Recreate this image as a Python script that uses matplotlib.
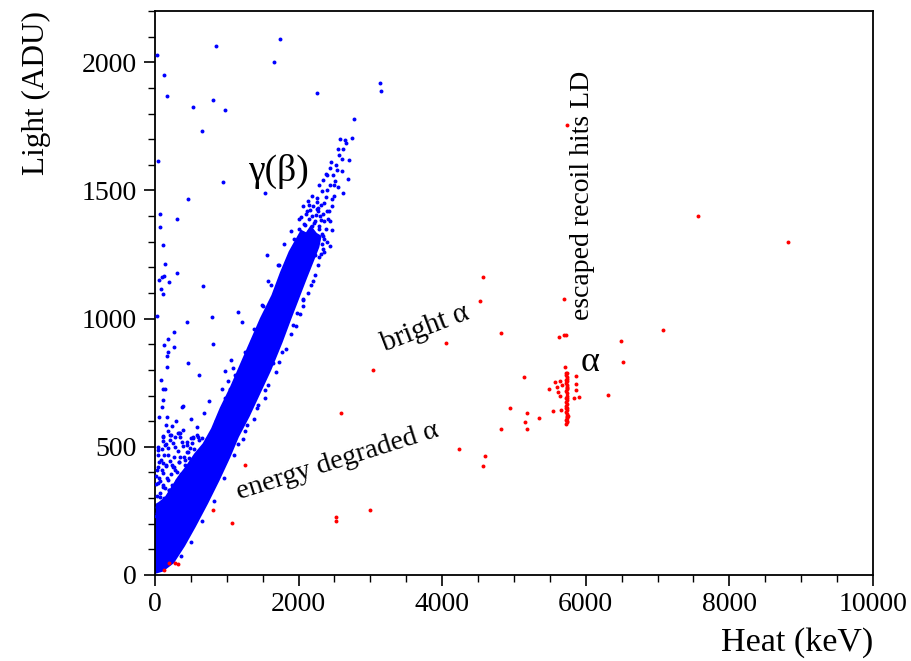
import matplotlib
matplotlib.use("Agg")
import matplotlib.pyplot as plt
from matplotlib.ticker import MultipleLocator

# ---------------- data ----------------
# dense gamma(beta) band: outline of the solid core (heat keV, light ADU)
core_heat = [0, 100, 250, 400, 550, 720, 880, 1030, 1150, 1300, 1450, 1600, 1760, 1880,
             1990, 2100, 2200, 2270, 2300, 2240, 2170, 2110, 2040, 1960, 1880, 1760, 1640,
             1480, 1340, 1200, 1060, 920, 800, 680, 560, 440, 330, 240, 150, 60, 0]
core_light = [10, 18, 50, 115, 190, 280, 370, 460, 540, 620, 710, 800, 910, 1000,
              1080, 1160, 1230, 1280, 1320, 1330, 1355, 1330, 1340, 1300, 1260, 1180, 1090,
              1000, 910, 820, 730, 650, 570, 510, 470, 420, 380, 340, 300, 280, 270]

# individual gamma(beta) events outside the solid core
blue_heat = [23, 850, 1745, 1653, 130, 167, 525, 812, 975, 2252, 3134, 3143, 2776, 2748,
             650, 46, 951, 1532, 455, 74, 74, 306, 116, 139, 306, 1556, 1570, 673, 93,
             125, 60, 190, 84, 116, 2205,
             2642, 2660, 2623, 2567, 2600, 2702, 2437, 2539, 2609, 2382, 2344, 2507,
             2692, 2437, 2553, 2614, 2321, 2382, 2461, 2308, 2461, 2252, 2392, 2437,
             2149, 2113, 2089, 2461, 2344, 2437, 2312, 2057, 1717, 1486,
             2180, 2230, 2280, 2150, 2200, 2260, 2320, 2120, 2380, 2300, 2350, 2250,
             2400, 2280, 2480, 2520, 2550, 2580, 2050, 2000, 2100, 2170, 2230, 2280,
             2350, 2400, 2190, 2330, 2420, 2500, 2360, 2270, 2400, 2450, 2500,
             23, 441, 790, 1160, 1207, 2066, 269, 185, 130, 265, 185, 162, 812, 464,
             162, 617, 79, 116, 139, 107, 93, 394, 380, 756, 687, 497, 292, 60, 162,
             153, 232, 185, 116, 218, 325, 348, 580, 650, 525, 116, 246, 487, 975,
             1054, 1082, 929, 1045, 1021, 1277, 1347, 1765, 1918, 1973, 1648, 1532,
             1439, 1277, 1160,
             116, 209, 348, 535, 139, 279, 441, 46, 185, 348, 116, 232, 23, 116, 185,
             46, 139, 302, 70, 209, 23, 139, 40, 90, 160, 250, 300, 420, 380, 60,
             110, 200, 260, 330, 440, 600, 30, 80, 150, 230, 20, 60, 120, 180,
             # extra speckle left of the low band
             30, 75, 130, 190, 240, 300, 360, 420, 480, 540, 610, 20, 65, 110, 170,
             220, 280, 340, 400, 460, 520, 590, 45, 95, 150, 205, 260, 320, 385, 445,
             505, 40, 100, 160, 215, 275, 335, 395, 15, 55, 120, 175,
             # speckle on the right edge of the band
             1220, 1380, 1530, 1680, 1830, 1960, 2060, 2170, 2270, 2340, 1100, 960,
             820, 660, 500, 360, 1250, 1420, 1580, 1730, 1900, 2020, 2130, 2230,
             # speckle on the upper-left edge of the band
             1730, 1620, 1500, 1380, 1250, 1110, 980, 850, 730, 1800, 1900, 2000,
             # speckle around the top of the band
             1940, 2010, 2080, 2150, 2210, 2290, 2350, 2030, 2100, 2160, 2240, 2310,
             2060, 2130, 2200, 2270, 2340, 2410, 2180, 2250]
blue_light = [2029, 2065, 2089, 2000, 1949, 1868, 1825, 1853, 1814, 1879, 1918, 1888,
              1780, 1706, 1732, 1613, 1532, 1492, 1467, 1409, 1358, 1389, 1289, 1215,
              1177, 1250, 1146, 1126, 1161, 1168, 1152, 1143, 1116, 1098, 1146,
              1697, 1686, 1660, 1638, 1621, 1618, 1589, 1580, 1575, 1563, 1539, 1536,
              1543, 1523, 1514, 1491, 1497, 1474, 1465, 1445, 1439, 1429, 1419, 1380,
              1445, 1419, 1367, 1345, 1322, 1285, 1253, 1077, 1208, 1052,
              1400, 1380, 1360, 1340, 1320, 1300, 1290, 1300, 1350, 1400, 1450, 1470,
              1500, 1520, 1560, 1600, 1660, 1700, 1320, 1290, 1270, 1270, 1250, 1240,
              1260, 1300, 1360, 1330, 1420, 1480, 1380, 1420, 1560, 1610, 1520,
              1009, 986, 1005, 1025, 987, 1074, 948, 922, 898, 888, 868, 855, 901, 827,
              810, 780, 759, 725, 725, 684, 655, 660, 654, 677, 632, 608, 599, 616, 618,
              586, 582, 563, 544, 547, 553, 540, 579, 536, 536, 521, 514, 495, 797,
              840, 807, 725, 725, 755, 866, 911, 868, 977, 1022, 827, 723,
              664, 586, 512,
              540, 547, 553, 540, 508, 501, 508, 488, 469, 462, 436, 430, 410, 397, 371,
              358, 339, 345, 306, 293, 267, 254, 470, 450, 430, 420, 400, 450, 520, 380,
              350, 330, 420, 440, 480, 540, 240, 260, 300, 330, 230, 250, 270, 290,
              310, 320, 300, 330, 350, 370, 395, 430, 455, 490, 525, 355, 365, 345, 380,
              395, 410, 440, 460, 480, 515, 545, 420, 410, 425, 445, 460, 485, 505, 520,
              535, 500, 490, 510, 525, 540, 555, 565, 385, 440, 470, 495,
              530, 610, 690, 790, 880, 970, 1050, 1130, 1210, 1270, 470, 380,
              290, 210, 130, 75, 560, 650, 740, 830, 940, 1020, 1100, 1170,
              1210, 1130, 1050, 960, 870, 780, 690, 600, 530, 1290, 1340, 1390,
              1310, 1350, 1370, 1390, 1375, 1350, 1310, 1395, 1410, 1425, 1405, 1385,
              1440, 1460, 1440, 1430, 1410, 1390, 1480, 1455]

# alpha events
red_heat = [4526, 4815, 4053, 3032, 4944, 4815, 2586, 4238, 4596, 4573, 1253, 812, 1068,
            2521, 2521, 2994, 199, 279, 325, 125,
            5734, 7558, 8821, 4573, 5696, 5631, 5696, 5724, 6486, 7080, 6522, 6309,
            5144, 5177, 5153, 5177, 5353,
            5714, 5571, 5487, 5594, 5617, 5641, 5548, 5650, 5859, 5864, 5859, 5840,
            5905, 5756, 5641, 5664, 5724,
            5730, 5735, 5728, 5740, 5732, 5736, 5729, 5738, 5733, 5727, 5741, 5731,
            5737, 5730, 5734, 5739, 5728, 5735, 5732, 5740, 5729, 5736, 5733, 5738,
            5731, 5735, 5742, 5726, 5744, 5737, 5725, 5739]
red_light = [1068, 944, 905, 798, 651, 569, 632, 492, 465, 426, 430, 254, 202,
             228, 212, 254, 48, 48, 43, 20,
             1755, 1400, 1298, 1161, 1077, 928, 937, 935, 911, 954, 832, 704,
             771, 630, 598, 568, 611,
             811, 751, 725, 732, 714, 697, 641, 642, 776, 746, 720, 689,
             694, 621, 755, 742, 788,
             590, 598, 605, 612, 620, 628, 636, 644, 652, 660, 668, 676,
             684, 692, 700, 708, 716, 724, 732, 740, 748, 756, 764, 772,
             780, 788, 615, 650, 690, 730, 760, 600]

x_ticks = [0, 2000, 4000, 6000, 8000, 10000]
y_ticks = [0, 500, 1000, 1500, 2000]

# ---------------- plot ----------------
plt.rcParams['font.family'] = ['Liberation Serif', 'DejaVu Serif']

fig = plt.figure(figsize=(9.12, 6.61), dpi=100)
ax = fig.add_axes([155 / 912, 1 - 575 / 661, (873 - 155) / 912, (575 - 11) / 661])

BLUE = '#0000ff'
RED = '#ff0000'

ax.fill(core_heat, core_light, color=BLUE, lw=2.0, ec=BLUE, zorder=2)
ax.scatter(blue_heat, blue_light, s=8, c=BLUE, linewidths=0, zorder=3)
ax.scatter(red_heat, red_light, s=8, c=RED, linewidths=0, zorder=4)

ax.set_xlim(0, 10000)
ax.set_ylim(0, 2200)
ax.set_xticks(x_ticks)
ax.set_yticks(y_ticks)
ax.xaxis.set_minor_locator(MultipleLocator(500))
ax.yaxis.set_minor_locator(MultipleLocator(100))
ax.tick_params(which='major', direction='out', length=8, width=1.2, labelsize=20,
               top=False, right=False)
ax.tick_params(which='minor', direction='out', length=5, width=1.0,
               top=False, right=False)
ax.tick_params(axis='x', pad=4)
ax.tick_params(axis='y', pad=5)
for sp in ax.spines.values():
    sp.set_linewidth(1.3)

ax.set_xlabel('Heat (keV)', fontsize=24.5, loc='right')
ax.xaxis.set_label_coords(1.0, -0.092)
ax.set_ylabel('Light (ADU)', fontsize=22.5, loc='top')
ax.yaxis.set_label_coords(-0.145, 1.0)

ax.text(1713, 1575, 'γ(β)', fontsize=27, ha='center', va='center')
ax.text(3760, 960, 'bright α', fontsize=21, ha='center', va='center', rotation=21)
ax.text(2540, 445, 'energy degraded α', fontsize=20.5, ha='center', va='center',
        rotation=17.5)
ax.text(5960, 1480, 'escaped recoil hits LD', fontsize=20, ha='center', va='center',
        rotation=90)
ax.text(6060, 830, 'α', fontsize=26, ha='center', va='center')

fig.savefig('out.png', dpi=100)
